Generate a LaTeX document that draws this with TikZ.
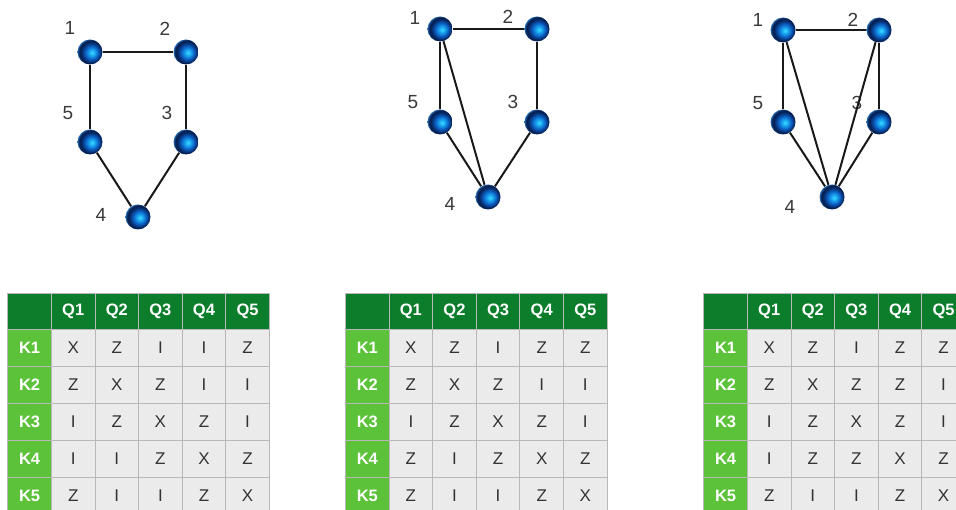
\documentclass[tikz,border=0pt]{standalone}
\usepackage{fontspec}
\setmainfont{Liberation Sans}
\definecolor{hdr}{HTML}{0B7D2B}
\definecolor{rowh}{HTML}{5CC23A}
\definecolor{cellbg}{HTML}{EBEBEB}
\definecolor{gridc}{HTML}{B8B8B8}
\definecolor{txt}{HTML}{333333}
\definecolor{lbl}{HTML}{3A3A3A}
\pgfdeclareradialshading{sph}{\pgfpoint{4.5bp}{-1.5bp}}{%
  color(0bp)=(rgb,255:red,60;green,220;blue,255);
  color(6bp)=(rgb,255:red,25;green,165;blue,240);
  color(13bp)=(rgb,255:red,12;green,95;blue,195);
  color(20bp)=(rgb,255:red,6;green,40;blue,100);
  color(24bp)=(rgb,255:red,4;green,28;blue,75);
  color(28bp)=(rgb,255:red,50;green,130;blue,205);
  color(50bp)=(rgb,255:red,90;green,175;blue,235)}
\tikzset{
  ballnode/.style={circle, minimum size=25pt, inner sep=0pt, shading=sph},
  numlbl/.style={font=\fontsize{19}{19}\selectfont, text=lbl, inner sep=0pt},
  edge/.style={line width=2pt, black!90},
  basecell/.style={anchor=north west, draw=gridc, line width=1pt, minimum width=43.6pt, inner sep=0pt},
  hdrbox/.style={basecell, fill=hdr, minimum height=35.5pt, text=white, font=\fontsize{16.5}{16.5}\selectfont\bfseries},
  rowbox/.style={basecell, fill=rowh, minimum height=37pt, text=white, font=\fontsize{16.5}{16.5}\selectfont\bfseries},
  cellbox/.style={basecell, fill=cellbg, minimum height=37pt, text=txt, font=\fontsize{17}{17}\selectfont}
}
\newcommand\mktable[3]{%
  \node[hdrbox] (#1-h0) at (#2,293.3) {};
  \foreach \q in {1,...,5} \node[hdrbox] (#1-h\q) at ({#2+\q*43.6},293.3) {Q\q};
  \foreach \row [count=\r] in {#3} {
    \node[rowbox] (#1-k\r) at (#2,{328.8+(\r-1)*37}) {K\r};
    \foreach \v [count=\c] in \row
      \node[cellbox] (#1-\r-\c) at ({#2+\c*43.6},{328.8+(\r-1)*37}) {\v};
  }%
}
\begin{document}
\begin{tikzpicture}[x=1pt,y=-1pt]
\clip (0,0) rectangle (956,510);
\fill[white] (0,0) rectangle (956,510);
% ---------- graph 1
\node[ballnode] (a1) at (90,52) {};
\node[ballnode] (a2) at (186,52) {};
\node[ballnode] (a5) at (90,142) {};
\node[ballnode] (a3) at (186,142) {};
\node[ballnode] (a4) at (138,217) {};
\node[numlbl] (la1) at (70,28) {1};
\node[numlbl] (la2) at (165,29) {2};
\node[numlbl] (la5) at (68,113) {5};
\node[numlbl] (la3) at (167,113) {3};
\node[numlbl] (la4) at (101,215) {4};
\draw[edge] (a1) -- (a2);
\draw[edge] (a1) -- (a5);
\draw[edge] (a2) -- (a3);
\draw[edge] (a5) -- (a4);
\draw[edge] (a3) -- (a4);
% ---------- graph 2
\node[ballnode] (b1) at (440,29) {};
\node[ballnode] (b2) at (537,29) {};
\node[ballnode] (b5) at (440,122) {};
\node[ballnode] (b3) at (537,122) {};
\node[ballnode] (b4) at (488,197) {};
\node[numlbl] (lb1) at (415,18) {1};
\node[numlbl] (lb2) at (508,17) {2};
\node[numlbl] (lb5) at (413,102) {5};
\node[numlbl] (lb3) at (513,102) {3};
\node[numlbl] (lb4) at (450,204) {4};
\draw[edge] (b1) -- (b2);
\draw[edge] (b1) -- (b5);
\draw[edge] (b2) -- (b3);
\draw[edge] (b5) -- (b4);
\draw[edge] (b3) -- (b4);
\draw[edge] (b1) -- (b4);
% ---------- graph 3
\node[ballnode] (c1) at (783,30) {};
\node[ballnode] (c2) at (879,30) {};
\node[ballnode] (c5) at (783,122) {};
\node[ballnode] (c3) at (879,122) {};
\node[ballnode] (c4) at (832,197) {};
\node[numlbl] (lc1) at (758,20) {1};
\node[numlbl] (lc2) at (853,20) {2};
\node[numlbl] (lc5) at (758,103) {5};
\node[numlbl] (lc3) at (857,103) {3};
\node[numlbl] (lc4) at (790,207) {4};
\draw[edge] (c1) -- (c2);
\draw[edge] (c1) -- (c5);
\draw[edge] (c2) -- (c3);
\draw[edge] (c5) -- (c4);
\draw[edge] (c3) -- (c4);
\draw[edge] (c1) -- (c4);
\draw[edge] (c2) -- (c4);
% ---------- tables
\mktable{ta}{7.3}{{X,Z,I,I,Z},{Z,X,Z,I,I},{I,Z,X,Z,I},{I,I,Z,X,Z},{Z,I,I,Z,X}}
\mktable{tb}{345}{{X,Z,I,Z,Z},{Z,X,Z,I,I},{I,Z,X,Z,I},{Z,I,Z,X,Z},{Z,I,I,Z,X}}
\mktable{tc}{703.3}{{X,Z,I,Z,Z},{Z,X,Z,Z,I},{I,Z,X,Z,I},{I,Z,Z,X,Z},{Z,I,I,Z,X}}
\end{tikzpicture}
\end{document}
